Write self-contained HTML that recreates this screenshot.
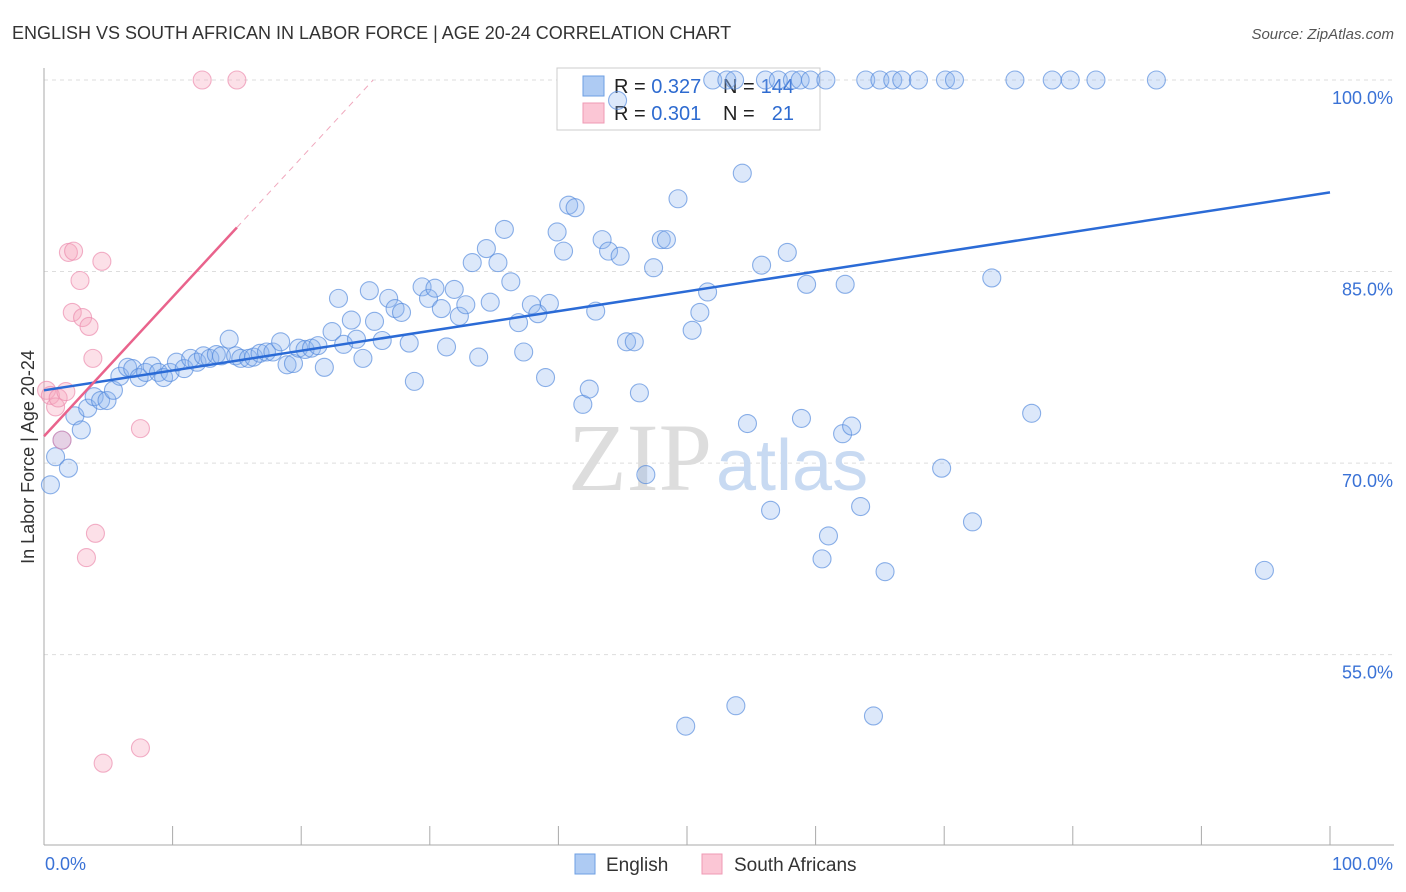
<!DOCTYPE html>
<html><head><meta charset="utf-8"><style>
body{margin:0;background:#fff;font-family:"Liberation Sans",sans-serif}
svg{display:block}
</style></head><body>
<svg id="chart" width="1406" height="892" xmlns="http://www.w3.org/2000/svg">
<text x="12" y="39" font-size="18" fill="#333">ENGLISH VS SOUTH AFRICAN IN LABOR FORCE | AGE 20-24 CORRELATION CHART</text>
<text x="1394" y="39" font-size="15" fill="#555" font-style="italic" text-anchor="end">Source: ZipAtlas.com</text>
<text x="34" y="457" font-size="18" fill="#333" text-anchor="middle" transform="rotate(-90 34 457)">In Labor Force | Age 20-24</text>
<g id="grid"></g>
<g id="axes"></g>
<text x="712" y="490" font-size="96" fill="#ddd" font-family="Liberation Serif,serif" text-anchor="end">ZIP</text>
<text x="716" y="490" font-size="72" fill="#c8daf2">atlas</text>
<g>
<rect x="557" y="68" width="263" height="62" fill="#fff" stroke="#ccc"/>
<rect x="583" y="76" width="21" height="20" fill="#aecbf3" stroke="#6e9fe3"/>
<rect x="583" y="103" width="21" height="20" fill="#fbc6d5" stroke="#ef9ab4"/>
<text x="614" y="93" font-size="20" fill="#222">R = <tspan fill="#2e6bd0">0.327</tspan></text>
<text x="723" y="93" font-size="20" fill="#222">N =</text>
<text x="794" y="93" font-size="20" fill="#2e6bd0" text-anchor="end">144</text>
<text x="614" y="120" font-size="20" fill="#222">R = <tspan fill="#2e6bd0">0.301</tspan></text>
<text x="723" y="120" font-size="20" fill="#222">N =</text>
<text x="794" y="120" font-size="20" fill="#2e6bd0" text-anchor="end">21</text>
</g>
<g id="points"></g>
<g id="lines"></g>
<g>
<rect x="575" y="854" width="20" height="20" fill="#aecbf3" stroke="#6e9fe3"/>
<text x="606" y="871" font-size="19" fill="#333">English</text>
<rect x="702" y="854" width="20" height="20" fill="#fbc6d5" stroke="#ef9ab4"/>
<text x="734" y="871" font-size="19" fill="#333">South Africans</text>
</g>
</svg>
<script>
const englishX=[0.5,0.9,1.4,1.9,2.4,2.9,3.4,3.9,4.4,4.9,5.4,5.9,6.5,6.9,7.4,7.9,8.4,8.9,9.3,9.8,10.3,10.9,11.4,11.9,12.4,12.9,13.4,13.8,14.4,14.9,15.3,15.9,16.3,16.8,17.3,17.8,18.4,18.9,19.4,19.8,20.3,20.8,21.3,21.8,22.4,22.9,23.3,23.9,24.3,24.8,25.3,25.7,26.3,26.8,27.3,27.8,28.4,28.8,29.4,29.9,30.4,30.9,31.3,31.9,32.3,32.8,33.3,33.8,34.4,34.7,35.3,35.8,36.3,36.9,37.3,37.9,38.4,39.0,39.3,39.9,40.4,40.8,41.3,41.9,42.4,42.9,43.4,43.9,44.8,45.3,45.9,46.3,46.8,47.4,48.0,48.4,49.3,50.4,51.0,51.6,49.9,53.8,54.3,54.7,55.8,56.5,57.8,58.9,59.3,60.5,61.0,62.1,62.3,62.8,63.5,64.5,65.4,69.8,72.2,73.7,76.8,94.9,44.6,52.0,53.1,53.7,56.1,57.1,58.2,58.8,59.6,60.8,63.9,65.0,66.0,66.7,68.0,70.1,70.8,75.5,78.4,79.8,81.8,86.5];
const englishY=[68.3,70.5,71.8,69.6,73.7,72.6,74.3,75.2,74.9,74.9,75.7,76.8,77.5,77.4,76.7,77.1,77.6,77.1,76.7,77.1,77.9,77.4,78.2,77.9,78.4,78.2,78.5,78.4,79.7,78.4,78.2,78.2,78.3,78.6,78.7,78.7,79.5,77.7,77.8,79.0,78.9,79.0,79.2,77.5,80.3,82.9,79.3,81.2,79.7,78.2,83.5,81.1,79.6,82.9,82.1,81.8,79.4,76.4,83.8,82.9,83.7,82.1,79.1,83.6,81.5,82.4,85.7,78.3,86.8,82.6,85.7,88.3,84.2,81.0,78.7,82.4,81.7,76.7,82.5,88.1,86.6,90.2,90.0,74.6,75.8,81.9,87.5,86.6,86.2,79.5,79.5,75.5,69.1,85.3,87.5,87.5,90.7,80.4,81.8,83.4,49.4,51.0,92.7,73.1,85.5,66.3,86.5,73.5,84.0,62.5,64.3,72.3,84.0,72.9,66.6,50.2,61.5,69.6,65.4,84.5,73.9,61.6,98.4,100,100,100,100,100,100,100,100,100,100,100,100,100,100,100,100,100,100,100,100,100];
const southAfricanX=[0.2,0.5,0.9,1.1,1.4,1.7,1.9,2.3,2.2,2.8,3.0,3.5,3.8,4.0,3.3,4.5,4.6,7.5,7.5,12.3,15.0];
const southAfricanY=[75.7,75.3,74.4,75.1,71.8,75.6,86.5,86.6,81.8,84.3,81.4,80.7,78.2,64.5,62.6,85.8,46.5,47.7,72.7,100,100];
const englishTrend=[75.7,91.2];
const southAfricanTrend=[72.1,1.09];
const yTicks=[100,85,70,55];
const xTickLabels=["0.0%","100.0%"];

const NS="http://www.w3.org/2000/svg";
const X0=44,X1=1330,YTOP=80;
function sx(v){return X0+(X1-X0)*v/100;}
function sy(v){return YTOP+(100-v)*12.77;}
function mk(tag,attrs,parent){const e=document.createElementNS(NS,tag);for(const k in attrs)e.setAttribute(k,attrs[k]);parent.appendChild(e);return e;}
const grid=document.getElementById('grid'),axes=document.getElementById('axes'),pts=document.getElementById('points'),lines=document.getElementById('lines');
yTicks.forEach(t=>{
 const l=mk('line',{x1:44,x2:1394,y1:sy(t),y2:sy(t),stroke:'#ddd','stroke-dasharray':'4 4'},grid);
 
 
 const tx=mk('text',{x:1393,y:sy(t)+24,'font-size':18,fill:'#3a72d6','text-anchor':'end'},grid);
 tx.textContent=t.toFixed(1)+'%';
 
 
});
const ax=mk('line',{x1:44,x2:1394,y1:845,y2:845,stroke:'#aaa'},axes);


const ay=mk('line',{x1:44,x2:44,y1:68,y2:845,stroke:'#aaa'},axes);


for(let i=0;i<=10;i++){
 const t=mk('line',{x1:sx(i*10),x2:sx(i*10),y1:826,y2:845,stroke:'#aaa'},axes);
 
 
}
[[0,'start',45],[100,'end',1393]].forEach((d,i)=>{
 const t=mk('text',{x:d[2],y:870,'font-size':18,fill:'#3a72d6','text-anchor':d[1]},axes);
 t.textContent=xTickLabels[i];
 
 
});
englishX.forEach((x,i)=>{
 const c=mk('circle',{cx:sx(x),cy:sy(englishY[i]),r:9,fill:'rgba(140,180,240,0.3)',stroke:'rgba(80,135,220,0.65)','stroke-width':1.1},pts);
 
 
});
southAfricanX.forEach((x,i)=>{
 const c=mk('circle',{cx:sx(x),cy:sy(southAfricanY[i]),r:9,fill:'rgba(245,165,190,0.35)',stroke:'rgba(235,135,170,0.65)','stroke-width':1.1},pts);
 
 
});
const bl=mk('line',{x1:sx(0),y1:sy(englishTrend[0]),x2:sx(100),y2:sy(englishTrend[1]),stroke:'#2b6bd6','stroke-width':2.5},lines);


const pEnd=15,pFull=(100-southAfricanTrend[0])/southAfricanTrend[1];
const pl=mk('line',{x1:sx(0),y1:sy(southAfricanTrend[0]),x2:sx(pEnd),y2:sy(southAfricanTrend[0]+southAfricanTrend[1]*pEnd),stroke:'#e9638c','stroke-width':2.5},lines);


const pd=mk('line',{x1:sx(pEnd),y1:sy(southAfricanTrend[0]+southAfricanTrend[1]*pEnd),x2:sx(pFull),y2:sy(100),stroke:'#f0a8bd','stroke-width':1,'stroke-dasharray':'6 5'},lines);


</script>
</body></html>
